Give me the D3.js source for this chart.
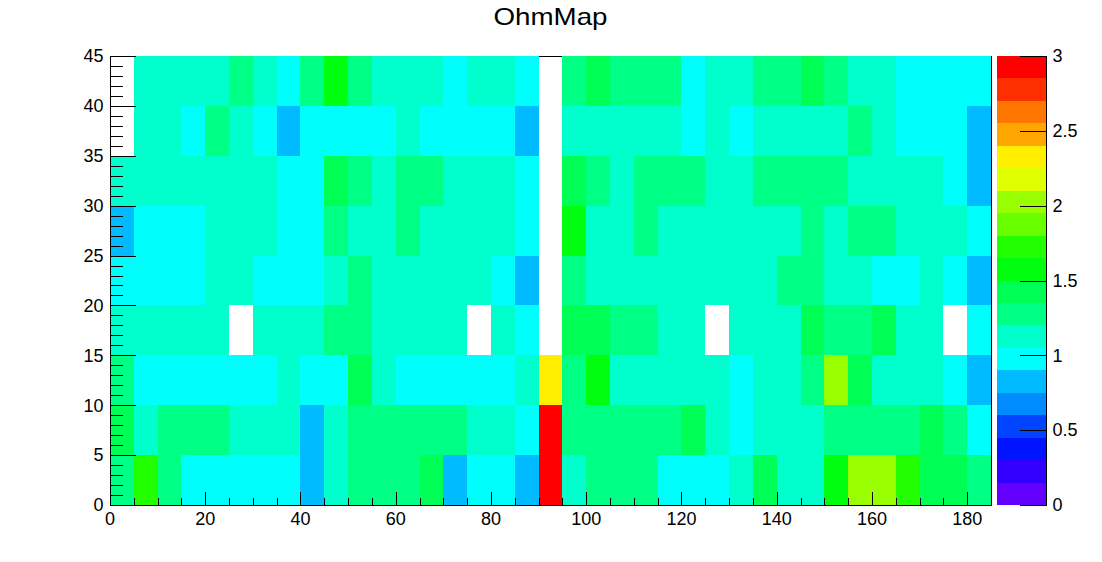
<!DOCTYPE html>
<html>
<head>
<meta charset="utf-8">
<script src="https://cdn.jsdelivr.net/npm/d3@7"></script>
<style>
  body { margin: 0; background: #fff; }
  svg { font-family: "Liberation Sans", Arial, Helvetica, sans-serif; }
</style>
</head>
<body>
<div id="view"></div>
<script>
// ---- data ----
const title = "OhmMap";
const xRange = [0, 185];
const yRange = [0, 45];
const binWidthX = 5;
const binLowY = [0, 5, 10, 15, 20, 25, 30, 35, 40];
const binHeightY = 5;

// one array per y bin, 37 x bins each (0 = empty bin)
const ohm_y0  = [1.28,1.72,1.28,0.98,0.98,0.98,0.98,0.98,0.82,1.12,1.28,1.28,1.28,1.42,0.82,0.98,0.98,0.82,2.95,1.12,1.28,1.28,1.28,0.98,0.98,0.98,1.12,1.42,1.12,1.12,1.57,2.02,2.02,1.72,1.42,1.42,1.28];
const ohm_y5  = [1.42,1.12,1.28,1.28,1.28,1.12,1.12,1.12,0.82,1.12,1.28,1.28,1.28,1.28,1.28,1.12,1.12,0.98,2.95,1.28,1.28,1.28,1.28,1.28,1.42,1.12,0.98,1.12,1.12,1.12,1.28,1.28,1.28,1.28,1.42,1.28,0.98];
const ohm_y10 = [1.28,0.98,0.98,0.98,0.98,0.98,0.98,1.12,0.98,0.98,1.42,1.12,0.98,0.98,0.98,0.98,0.98,1.12,2.30,1.28,1.57,1.12,1.12,1.12,1.12,1.12,0.98,1.12,1.12,1.28,2.02,1.42,1.12,1.12,1.12,0.98,0.82];
const ohm_y15 = [1.12,1.12,1.12,1.12,1.12,0,1.12,1.12,1.12,1.28,1.28,1.12,1.12,1.12,1.12,0,1.12,0.98,0,1.42,1.42,1.28,1.28,1.12,1.12,0,1.12,1.12,1.12,1.42,1.28,1.28,1.42,1.12,1.12,0,0.98];
const ohm_y20 = [0.98,0.98,0.98,0.98,1.12,1.12,0.98,0.98,0.98,1.12,1.28,1.12,1.12,1.12,1.12,1.12,0.98,0.82,0,1.28,1.12,1.12,1.12,1.12,1.12,1.12,1.12,1.12,1.28,1.28,1.12,1.12,0.98,0.98,1.12,0.98,0.82];
const ohm_y25 = [0.82,0.98,0.98,0.98,1.12,1.12,1.12,0.98,0.98,1.28,1.12,1.12,1.28,1.12,1.12,1.12,1.12,0.98,0,1.57,1.12,1.12,1.28,1.12,1.12,1.12,1.12,1.12,1.12,1.28,1.12,1.28,1.28,1.12,1.12,1.12,0.98];
const ohm_y30 = [1.12,1.12,1.12,1.12,1.12,1.12,1.12,0.98,0.98,1.42,1.28,1.12,1.28,1.28,1.12,1.12,1.12,0.98,0,1.42,1.28,1.12,1.28,1.28,1.28,1.12,1.12,1.28,1.28,1.28,1.28,1.12,1.12,1.12,1.12,0.98,0.82];
const ohm_y35 = [0,1.12,1.12,0.98,1.28,1.12,0.98,0.82,0.98,0.98,0.98,0.98,1.12,0.98,0.98,0.98,0.98,0.82,0,1.12,1.12,1.12,1.12,1.12,0.98,1.12,0.98,1.12,1.12,1.12,1.12,1.28,1.12,0.98,0.98,0.98,0.82];
const ohm_y40 = [0,1.12,1.12,1.12,1.12,1.28,1.12,0.98,1.28,1.57,1.28,1.12,1.12,1.12,0.98,1.12,1.12,0.98,0,1.28,1.42,1.28,1.28,1.28,0.98,1.12,1.12,1.28,1.28,1.42,1.28,1.12,1.12,0.98,0.98,0.98,0.98];
const ohmRows = [ohm_y0, ohm_y5, ohm_y10, ohm_y15, ohm_y20, ohm_y25, ohm_y30, ohm_y35, ohm_y40];

const zRange = [0, 3];
const xTicks = [0, 20, 40, 60, 80, 100, 120, 140, 160, 180];
const yTicks = [0, 5, 10, 15, 20, 25, 30, 35, 40, 45];
const zTicks = [0, 0.5, 1, 1.5, 2, 2.5, 3];

// ROOT "pretty" palette, 20 contour levels
const paletteColors = ["#6300ff","#3300ff","#0014ff","#0044ff","#008bff","#00bbff","#00fffc","#00ffcc","#00ff85","#00ff55",
                       "#00ff0e","#22ff00","#69ff00","#99ff00","#e0ff00","#ffee00","#ffa700","#ff7700","#ff3000","#ff0000"];

// ---- layout ----
const width = 1102, height = 562;
const frame = { left: 110, right: 991, top: 56, bottom: 505 };
const pal = { left: 997, right: 1046 };

const svg = d3.select("#view").append("svg")
    .attr("width", width)
    .attr("height", height);

const x = d3.scaleLinear().domain(xRange).range([frame.left, frame.right]);
const y = d3.scaleLinear().domain(yRange).range([frame.bottom, frame.top]);
const color = d3.scaleQuantize().domain(zRange).range(paletteColors);

// title
svg.append("text")
    .attr("x", 550.5)
    .attr("y", 25)
    .attr("text-anchor", "middle")
    .attr("textLength", 114)
    .attr("lengthAdjust", "spacingAndGlyphs")
    .style("font-size", "24px")
    .text(title);

// frame outline (drawn first, cells cover the top edge like ROOT)
svg.append("rect")
    .attr("x", frame.left + 0.5)
    .attr("y", frame.top + 0.5)
    .attr("width", frame.right - frame.left)
    .attr("height", frame.bottom - frame.top)
    .attr("fill", "none")
    .attr("stroke", "#000");

// cells
const cells = [];
ohmRows.forEach((row, j) => {
    row.forEach((v, i) => {
        if (v > 0) cells.push({ x0: i * binWidthX, y0: binLowY[j], v: v });
    });
});

svg.append("g")
    .attr("shape-rendering", "crispEdges")
    .selectAll("rect")
    .data(cells)
    .enter()
    .append("rect")
    .attr("x", d => x(d.x0))
    .attr("y", d => y(d.y0 + binHeightY))
    .attr("width", d => x(d.x0 + binWidthX) - x(d.x0))
    .attr("height", d => y(d.y0) - y(d.y0 + binHeightY))
    .attr("fill", d => color(d.v));

// x axis: ticks point up into the frame
const xMajorLen = 0.03 * (frame.bottom - frame.top);
const gx = svg.append("g").attr("stroke", "#000").attr("shape-rendering", "crispEdges");
gx.append("line")
    .attr("x1", frame.left).attr("x2", frame.right)
    .attr("y1", frame.bottom + 0.5).attr("y2", frame.bottom + 0.5);
const xMinor = d3.range(xRange[0], xRange[1] + 0.01, 5);
gx.selectAll(".minor")
    .data(xMinor)
    .enter().append("line")
    .attr("x1", d => Math.round(x(d)) + 0.5).attr("x2", d => Math.round(x(d)) + 0.5)
    .attr("y1", frame.bottom)
    .attr("y2", d => frame.bottom - (xTicks.includes(d) ? xMajorLen : xMajorLen / 2));

svg.append("g")
    .selectAll("text")
    .data(xTicks)
    .enter().append("text")
    .attr("x", d => x(d))
    .attr("y", 524.5)
    .attr("text-anchor", "middle")
    .style("font-size", "18px")
    .text(d => d);

// y axis: ticks point right into the frame
const yMajorLen = 0.03 * (frame.right - frame.left);
const gy = svg.append("g").attr("stroke", "#000").attr("shape-rendering", "crispEdges");
gy.append("line")
    .attr("x1", frame.left + 0.5).attr("x2", frame.left + 0.5)
    .attr("y1", frame.top).attr("y2", frame.bottom + 1);
const yMinor = d3.range(yRange[0], yRange[1] + 0.01, 1);
gy.selectAll(".minor")
    .data(yMinor)
    .enter().append("line")
    .attr("y1", d => Math.round(y(d)) + 0.5).attr("y2", d => Math.round(y(d)) + 0.5)
    .attr("x1", frame.left)
    .attr("x2", d => frame.left + (yTicks.includes(d) ? yMajorLen : yMajorLen / 2));

svg.append("g")
    .selectAll("text")
    .data(yTicks)
    .enter().append("text")
    .attr("x", 103.5)
    .attr("y", d => y(d))
    .attr("dy", "0.35em")
    .attr("text-anchor", "end")
    .style("font-size", "18px")
    .text(d => d);

// palette
const z = d3.scaleLinear().domain(zRange).range([frame.bottom, frame.top]);
const step = (zRange[1] - zRange[0]) / paletteColors.length;
svg.append("g")
    .attr("shape-rendering", "crispEdges")
    .selectAll("rect")
    .data(paletteColors)
    .enter().append("rect")
    .attr("x", pal.left)
    .attr("y", (c, k) => z(zRange[0] + (k + 1) * step))
    .attr("width", pal.right - pal.left)
    .attr("height", (c, k) => z(zRange[0] + k * step) - z(zRange[0] + (k + 1) * step))
    .attr("fill", c => c);

const gz = svg.append("g").attr("stroke", "#000").attr("shape-rendering", "crispEdges");
gz.append("line")
    .attr("x1", pal.right + 0.5).attr("x2", pal.right + 0.5)
    .attr("y1", frame.top).attr("y2", frame.bottom + 1);
gz.selectAll(".tick")
    .data(zTicks)
    .enter().append("line")
    .attr("x1", pal.right).attr("x2", pal.right - 26)
    .attr("y1", d => Math.round(z(d)) + 0.5).attr("y2", d => Math.round(z(d)) + 0.5);

svg.append("g")
    .selectAll("text")
    .data(zTicks)
    .enter().append("text")
    .attr("x", 1052.5)
    .attr("y", d => z(d))
    .attr("dy", "0.35em")
    .style("font-size", "18px")
    .text(d => d);
</script>
</body>
</html>
